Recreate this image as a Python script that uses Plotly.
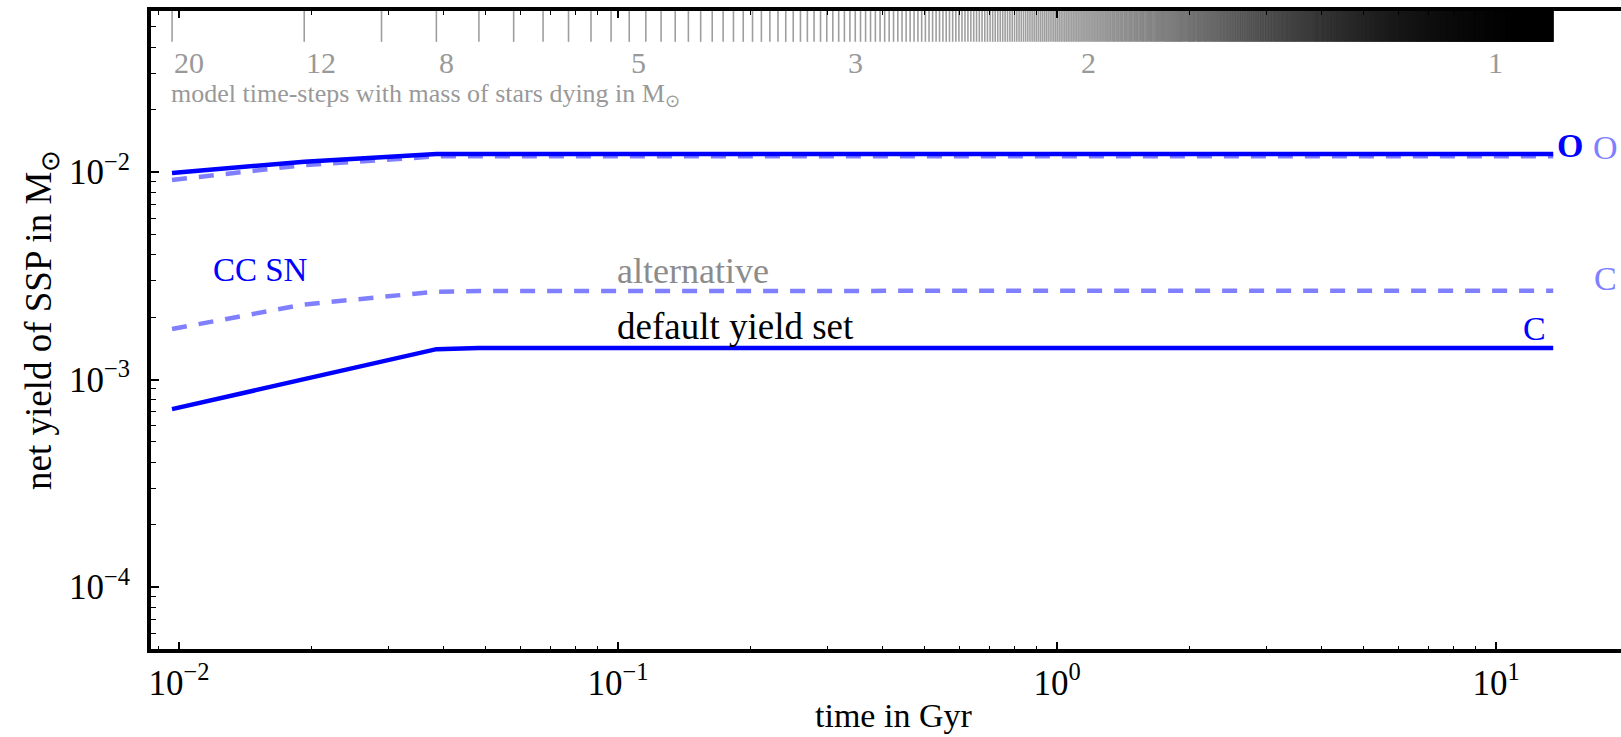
import numpy as np
import plotly.graph_objects as go

# ---------------- data ----------------
t_end = 13.5                      # Gyr, end of model time
n_steps = 1400                    # number of model time-steps
time_pts = [0.00964, 0.0193, 0.0289, 0.0386, 0.0482, 13.5]
O_default = [0.0099, 0.0112, 0.01178, 0.0122, 0.0122, 0.0122]
O_alt = [0.00915, 0.0108, 0.0114, 0.0119, 0.0119, 0.0119]
C_alt = [0.00175, 0.0023, 0.0025, 0.00265, 0.00267, 0.00268]
C_default = [0.00072, 0.00101, 0.00122, 0.0014, 0.00142, 0.00142]

mass_labels = ['20', '12', '8', '5', '3', '2', '1']
mass_times = [0.00964, 0.0193, 0.0386, 0.106, 0.33, 1.12, 9.5]

x_tickvals = [0.01, 0.1, 1, 10]
x_ticktext = ['10<sup>−2</sup>', '10<sup>−1</sup>', '10<sup>0</sup>', '10<sup>1</sup>']
y_tickvals = [1e-4, 1e-3, 1e-2]
y_ticktext = ['10<sup>−4</sup>', '10<sup>−3</sup>', '10<sup>−2</sup>']

# model time grid (regular steps)
dt = t_end / n_steps
t_steps = dt * np.arange(1, n_steps + 1)

# ---------------- layout geometry ----------------
FW, FH = 1621, 737
L, T, Bm, Rm = 151, 11, 88, 0
PW = FW - L - Rm
PH = FH - T - Bm
PB = FH - Bm  # plot bottom pixel


def px(x):
    return (x - L) / PW


def py(y):
    return (PB - y) / PH


FONT = 'Liberation Serif'
BLUE = '#0000ff'
LBLUE = 'rgba(0,0,255,0.5)'
GREY = '#999999'

fig = go.Figure()

# time-step strip
fig.add_trace(go.Scatter(
    x=t_steps, y=np.full(n_steps, 0.978), yaxis='y2', mode='markers',
    marker=dict(symbol='line-ns', size=24, color='rgba(0,0,0,0.38)',
                line=dict(width=1.6, color='rgba(0,0,0,0.38)')),
    hoverinfo='skip', showlegend=False))

dash = '15px,12px'
fig.add_trace(go.Scatter(x=time_pts, y=O_alt, mode='lines',
                         line=dict(color=LBLUE, width=4.5, dash=dash), showlegend=False))
fig.add_trace(go.Scatter(x=time_pts, y=C_alt, mode='lines',
                         line=dict(color=LBLUE, width=4.5, dash=dash), showlegend=False))
fig.add_trace(go.Scatter(x=time_pts, y=O_default, mode='lines',
                         line=dict(color=BLUE, width=4.5), showlegend=False))
fig.add_trace(go.Scatter(x=time_pts, y=C_default, mode='lines',
                         line=dict(color=BLUE, width=4.5), showlegend=False))

xr = [-2 + (L - 179) / 439, -2 + (FW - Rm - 179) / 439]
yr = [-4 - (PB - 587) / 207.5, -2 + (172 - T) / 207.5]

minor_x = [m * 10.0 ** e for e in range(-3, 2) for m in range(2, 10)]
minor_y = [m * 10.0 ** e for e in range(-5, -1) for m in range(2, 10)]

fig.update_layout(
    width=FW, height=FH,
    margin=dict(l=L, r=Rm, t=T, b=Bm, pad=0),
    paper_bgcolor='white', plot_bgcolor='white',
    font=dict(family=FONT, size=32, color='black'),
    hovermode=False,
    xaxis=dict(type='log', range=xr, showgrid=False, zeroline=False,
               showline=True, linewidth=4, linecolor='black', mirror='ticks',
               ticks='inside', ticklen=7, tickwidth=1.5, tickcolor='black',
               tickvals=x_tickvals, ticktext=x_ticktext,
               tickfont=dict(family=FONT, size=35),
               minor=dict(tickvals=minor_x, ticks='inside', ticklen=3.5,
                          tickwidth=1, tickcolor='black')),
    yaxis=dict(type='log', range=yr, showgrid=False, zeroline=False,
               showline=True, linewidth=4, linecolor='black', mirror=False,
               ticks='inside', ticklen=8, tickwidth=1.5, tickcolor='black',
               tickvals=y_tickvals, ticktext=y_ticktext,
               tickfont=dict(family=FONT, size=35), ticklabelstandoff=10,
               minor=dict(tickvals=minor_y, ticks='inside', ticklen=5,
                          tickwidth=1, tickcolor='black')),
    yaxis2=dict(overlaying='y', range=[0, 1], visible=False, fixedrange=True),
)

ann = []


def add_text(text, x, y, color, size=32, xanchor='left', **kw):
    ann.append(dict(text=text, x=px(x), y=py(y), xref='paper', yref='paper',
                    xanchor=xanchor, yanchor='middle', showarrow=False,
                    font=dict(family=FONT, size=size, color=color), **kw))


add_text('CC SN', 211, 270, BLUE, size=33)
add_text('alternative', 615, 271, '#8c8c8c', size=36)
add_text('default yield set', 615, 326, 'black', size=37)
add_text('<b>O</b>', 1570, 145, BLUE, size=34, xanchor='center')
add_text('O', 1605, 147, '#8080ff', size=34, xanchor='center')
add_text('C', 1534, 328, BLUE, size=34, xanchor='center')
add_text('C', 1605, 278, '#8080ff', size=34, xanchor='center')
add_text('model time-steps with mass of stars dying in M<sub>⊙</sub>', 169, 95, GREY, size=26)
add_text('time in Gyr', 893, 715, 'black', size=34, xanchor='center')
add_text('net yield of SSP in M<sub>⊙</sub>', 41, 320, 'black', size=37,
         xanchor='center', textangle=-90)

for lab, tm in zip(mass_labels, mass_times):
    ann.append(dict(text=lab, x=np.log10(tm), y=py(62), xref='x', yref='paper',
                    xanchor='left', yanchor='middle', showarrow=False,
                    font=dict(family=FONT, size=30, color=GREY)))

fig.update_layout(annotations=ann)

fig.write_html('out.html', config={'displayModeBar': False})
